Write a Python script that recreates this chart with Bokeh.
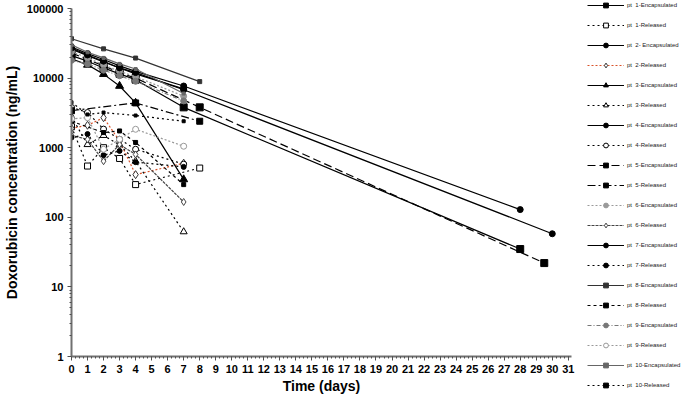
from bokeh.plotting import figure
from bokeh.models import (FixedTicker, NumeralTickFormatter, Legend, LegendItem, Range1d)
from bokeh.embed import file_html
from bokeh.resources import INLINE

# ---------------- data ----------------
pt1_enc_days = [0, 1, 2, 3, 4, 7, 28]
pt1_enc_vals = [21000, 17500, 14000, 11500, 9500, 3800, 35]
pt1_rel_days = [0, 1, 2, 3, 4, 8]
pt1_rel_vals = [2000, 545, 1000, 700, 295, 510]

pt2_enc_days = [0, 1, 2, 3, 4, 7]
pt2_enc_vals = [26000, 21000, 17000, 14000, 11500, 7000]
pt2_rel_days = [0, 1, 2, 3, 4, 7]
pt2_rel_vals = [1900, 2100, 2700, 1250, 410, 600]

pt3_enc_days = [0, 1, 2, 3, 4, 7]
pt3_enc_vals = [19000, 15500, 11400, 7700, 4400, 350]
pt3_rel_days = [0, 1, 2, 3, 4, 7]
pt3_rel_vals = [2800, 1110, 1500, 1100, 640, 62]

pt4_enc_days = [0, 1, 2, 3, 4, 7, 28]
pt4_enc_vals = [28000, 22500, 18500, 15000, 12500, 7700, 129]
pt4_rel_days = [0, 1, 2, 3, 4, 7]
pt4_rel_vals = [3800, 3200, 1850, 1320, 950, 580]

pt5_enc_days = [0, 1, 2, 3, 4, 8, 29.5]
pt5_enc_vals = [23000, 18500, 15000, 12000, 10000, 3800, 22]
pt5_rel_days = [0, 4, 8]
pt5_rel_vals = [3400, 4400, 2400]

pt6_enc_days = [0, 1, 2, 3, 4, 7]
pt6_enc_vals = [24000, 19500, 15500, 12500, 10500, 5500]
pt6_rel_days = [0, 1, 2, 3, 4, 7]
pt6_rel_vals = [1500, 1320, 640, 1110, 800, 166]

pt7_enc_days = [0, 1, 2, 3, 4, 7, 30]
pt7_enc_vals = [27000, 21500, 17500, 14000, 12000, 6800, 58]
pt7_rel_days = [0, 1, 2, 3, 4, 7]
pt7_rel_vals = [1400, 1570, 780, 900, 620, 530]

pt8_enc_days = [0, 2, 4, 8]
pt8_enc_vals = [36800, 26300, 19400, 8900]
pt8_rel_days = [0, 2, 3, 4, 7]
pt8_rel_vals = [2400, 1650, 1740, 1190, 295]

pt9_enc_days = [0, 1, 2, 3, 4, 7]
pt9_enc_vals = [18000, 16000, 13000, 10800, 9000, 4700]
pt9_rel_days = [0, 1, 2, 3, 4, 7]
pt9_rel_vals = [2600, 2700, 950, 1320, 1840, 1050]

pt10_enc_days = [0, 1, 2, 3, 4, 7]
pt10_enc_vals = [30000, 23500, 19500, 16000, 13500, 6000]
pt10_rel_days = [0, 1, 2, 4, 7]
pt10_rel_vals = [4500, 3000, 3200, 2900, 2400]

x_ticks = list(range(0, 32))
y_ticks = [1, 10, 100, 1000, 10000, 100000]

# label, days, values, line colour, dash, marker, marker size, filled
series = [
    ("pt  1-Encapsulated", pt1_enc_days, pt1_enc_vals, "black", "solid", "square", 7, True),
    ("pt  1-Released", pt1_rel_days, pt1_rel_vals, "black", "2 3", "square", 6, False),
    ("pt  2- Encapsulated", pt2_enc_days, pt2_enc_vals, "black", "solid", "circle", 6, True),
    ("pt  2-Released", pt2_rel_days, pt2_rel_vals, "#d9532b", "2 2", "diamond", 8, False),
    ("pt  3-Encapsulated", pt3_enc_days, pt3_enc_vals, "black", "solid", "triangle", 8, True),
    ("pt  3-Released", pt3_rel_days, pt3_rel_vals, "black", "2 3", "triangle", 7, False),
    ("pt  4-Encapsulated", pt4_enc_days, pt4_enc_vals, "black", "solid", "circle", 6, True),
    ("pt  4-Released", pt4_rel_days, pt4_rel_vals, "black", "2 3", "circle", 6, False),
    ("pt  5-Encapsulated", pt5_enc_days, pt5_enc_vals, "black", "8 4", "square", 7, True),
    ("pt  5-Released", pt5_rel_days, pt5_rel_vals, "black", "8 3 2 3", "square", 6, True),
    ("pt  6-Encapsulated", pt6_enc_days, pt6_enc_vals, "#9a9a9a", "2 2", "circle", 6, True),
    ("pt  6-Released", pt6_rel_days, pt6_rel_vals, "#444444", "3 1", "diamond", 7, False),
    ("pt  7-Encapsulated", pt7_enc_days, pt7_enc_vals, "black", "solid", "circle", 6, True),
    ("pt  7-Released", pt7_rel_days, pt7_rel_vals, "black", "2 3", "circle", 5, True),
    ("pt  8-Encapsulated", pt8_enc_days, pt8_enc_vals, "#333333", "solid", "square", 4, True),
    ("pt  8-Released", pt8_rel_days, pt8_rel_vals, "black", "3 3", "square", 4, True),
    ("pt  9-Encapsulated", pt9_enc_days, pt9_enc_vals, "#777777", "4 2 1 2", "circle", 6, True),
    ("pt  9-Released", pt9_rel_days, pt9_rel_vals, "#999999", "2 2", "circle", 6, False),
    ("pt  10-Encapsulated", pt10_enc_days, pt10_enc_vals, "#666666", "solid", "square", 3, True),
    ("pt  10-Released", pt10_rel_days, pt10_rel_vals, "black", "2 3", "square", 3, True),
]

p = figure(frame_width=500, frame_height=348, y_axis_type="log",
           x_range=Range1d(0, 31.2), y_range=Range1d(1, 100000),
           output_backend="svg", toolbar_location=None,
           min_border_top=8, min_border_right=110, min_border_left=10,
           background_fill_color="white", border_fill_color="white")
p.outline_line_color = None
p.xgrid.visible = False
p.ygrid.visible = False

FONT = "Liberation Sans"

items = []
for label, days, vals, col, dash, mk, sz, filled in series:
    lr = p.line(days, vals, line_color=col, line_dash=dash, line_width=1.2)
    sr = p.scatter(days, vals, marker=mk, size=sz, line_color=col if col != "#d9532b" else "#333333",
                   fill_color=(col if filled else "white"), line_width=1)
    items.append(LegendItem(label=label, renderers=[lr, sr]))

# axes
p.xaxis.ticker = FixedTicker(ticks=x_ticks, minor_ticks=[i * 0.25 for i in range(0, 125)])
minor_y = [m * 10 ** e for e in range(0, 5) for m in range(2, 10)]
p.yaxis.ticker = FixedTicker(ticks=y_ticks, minor_ticks=minor_y)
p.yaxis.formatter = NumeralTickFormatter(format="0")

for ax in (p.xaxis[0], p.yaxis[0]):
    ax.axis_line_color = "#707070"
    ax.axis_line_width = 2
    ax.major_tick_line_color = "#505050"
    ax.minor_tick_line_color = "#505050"
    ax.major_tick_line_width = 1
    ax.minor_tick_line_width = 1
    ax.major_tick_out = 4
    ax.major_tick_in = 0
    ax.minor_tick_out = 2
    ax.minor_tick_in = 0
    ax.major_label_text_font = FONT
    ax.major_label_text_font_style = "bold"
    ax.major_label_text_font_size = "11px"
    ax.major_label_text_color = "black"
    ax.axis_label_text_font = FONT
    ax.axis_label_text_font_style = "bold"
    ax.axis_label_text_font_size = "14px"
    ax.axis_label_text_color = "black"

p.xaxis.axis_label = "Time (days)"
p.yaxis.axis_label = "Doxorubicin concentration (ng/mL)"
p.xaxis.major_label_standoff = 4
p.xaxis.axis_label_standoff = 2
p.yaxis.major_label_standoff = 4
p.yaxis.axis_label_standoff = 4

legend = Legend(items=items, location=(16, -35), orientation="vertical",
                label_text_font=FONT, label_text_font_size="6px",
                label_text_color="#222222", glyph_width=37, glyph_height=12,
                label_height=12, spacing=8, padding=0, margin=0,
                label_standoff=3, border_line_color=None,
                background_fill_alpha=0)
p.add_layout(legend, "right")

open("out.html", "w").write(file_html(p, INLINE))
